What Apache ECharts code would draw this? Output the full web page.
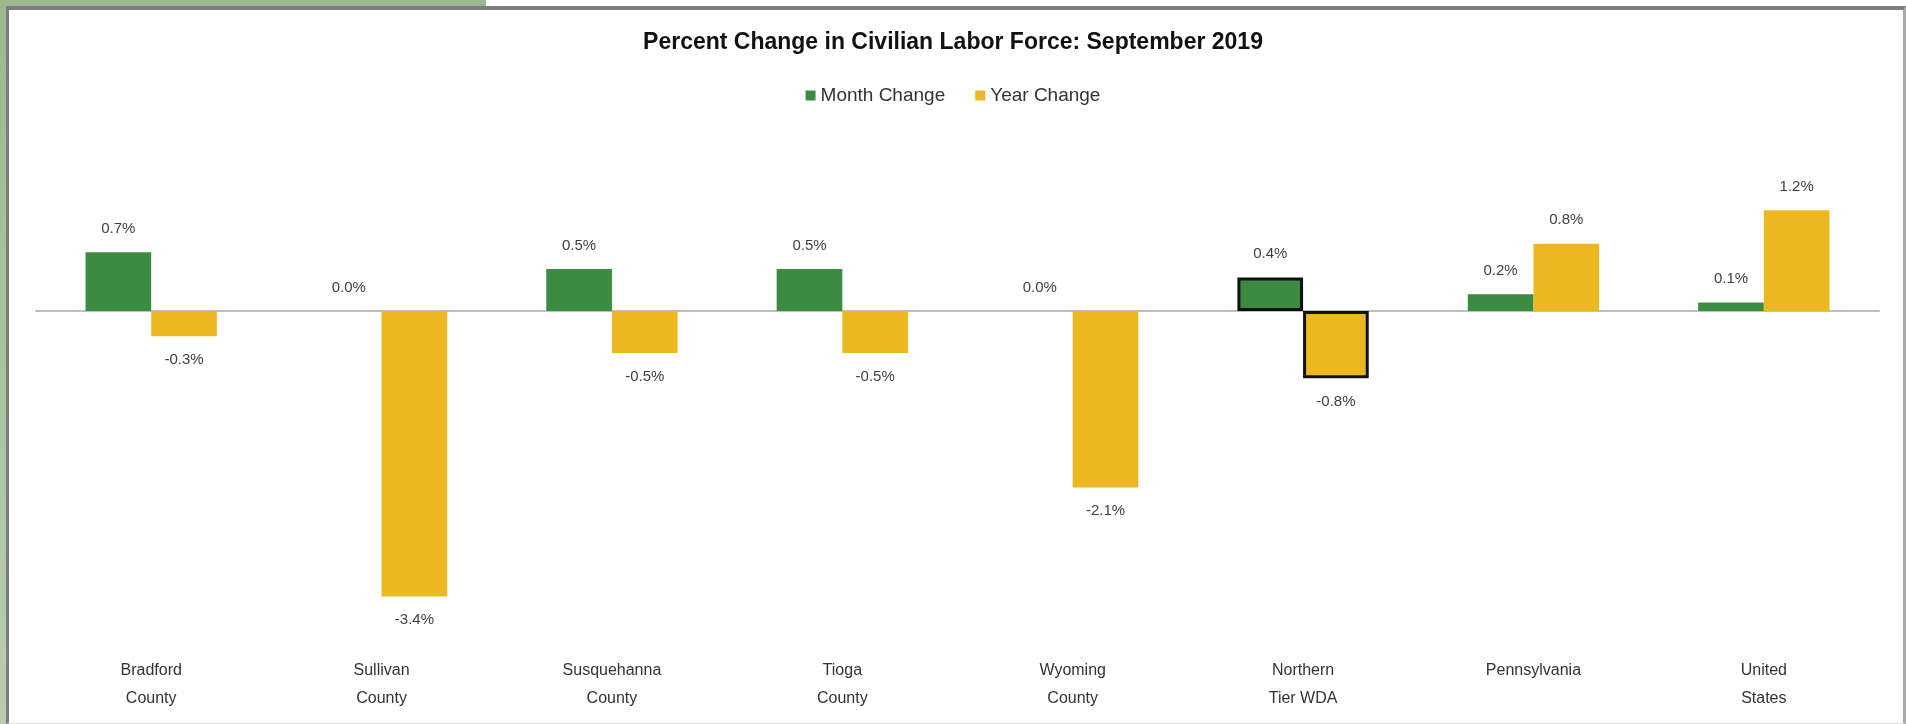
<!DOCTYPE html>
<html lang="en">
<head>
  <meta charset="UTF-8">
  <title>Percent Change in Civilian Labor Force</title>
  <script src="https://cdn.jsdelivr.net/npm/echarts@6/dist/echarts.min.js"></script>
  <style>
    html, body {
      margin: 0;
      padding: 0;
      background: #ffffff;
    }
    #greenTop {
      position: absolute; left: 0; top: 0; width: 486px; height: 8px;
      background: #9bb98f;
    }
    #greenLeft {
      position: absolute; left: 0; top: 0; width: 7px; height: 724px;
      background: linear-gradient(#9bb98f, #b9cdb1);
    }
    #frame {
      position: absolute; left: 6px; top: 6px; width: 1894px; height: 713px;
      border-top: 4px solid #7d7d7d;
      border-left: 3px solid #7d7d7d;
      border-right: 3px solid #a8a8a8;
      border-bottom: 1px solid #e0e0e0;
      background: #ffffff;
    }
    #main {
      position: absolute; left: 0; top: 0; width: 1906px; height: 724px;
    }
  </style>
</head>
<body>
<div id="greenTop"></div>
<div id="greenLeft"></div>
<div id="frame"></div>
<div id="main"></div>

<script>
  // data
  const areas = ['Bradford\nCounty', 'Sullivan\nCounty', 'Susquehanna\nCounty', 'Tioga\nCounty',
    'Wyoming\nCounty', 'Northern\nTier WDA', 'Pennsylvania', 'United\nStates'];
  const monthChange = [0.7, 0.0, 0.5, 0.5, 0.0, 0.4, 0.2, 0.1];
  const yearChange = [-0.3, -3.4, -0.5, -0.5, -2.1, -0.8, 0.8, 1.2];
  const highlighted = 'Northern\nTier WDA';

  const green = '#3b8b42';
  const yellow = '#ecb821';

  function toItems(values) {
    return values.map(function (v, idx) {
      let item = {
        value: v,
        label: {position: v < 0 ? 'bottom' : 'top'}
      };
      if (areas[idx] === highlighted) {
        item.itemStyle = {borderColor: '#111111', borderWidth: 3};
      }
      return item;
    });
  }

  let chart = echarts.init(document.getElementById('main'));
  let labelStyle = {
    show: true,
    distance: 16,
    color: '#404040',
    fontFamily: 'Liberation Sans',
    fontSize: 15,
    formatter: function (p) {
      return p.value.toFixed(1) + '%';
    }
  };
  let option = {
    animation: false,
    title: {
      text: 'Percent Change in Civilian Labor Force: September 2019',
      left: 'center',
      top: 26,
      textStyle: {
        fontFamily: 'Liberation Sans',
        fontSize: 23,
        fontWeight: 'bold',
        color: '#111111'
      }
    },
    legend: {
      top: 81,
      left: 'center',
      itemWidth: 10,
      itemHeight: 10,
      itemGap: 30,
      icon: 'rect',
      textStyle: {
        fontFamily: 'Liberation Sans',
        fontSize: 19,
        color: '#333333'
      },
      data: ['Month Change', 'Year Change']
    },
    grid: {
      left: 36,
      right: 27,
      top: 143,
      bottom: 77,
      containLabel: false
    },
    xAxis: {
      type: 'category',
      data: areas,
      axisLine: {lineStyle: {color: '#bfbfbf', width: 2}},
      axisTick: {show: false},
      axisLabel: {
        interval: 0,
        margin: 10,
        color: '#333333',
        fontFamily: 'Liberation Sans',
        fontSize: 16,
        lineHeight: 28
      }
    },
    yAxis: {
      type: 'value',
      min: -4,
      max: 2,
      show: false,
      splitLine: {show: false}
    },
    series: [
      {
        name: 'Month Change',
        type: 'bar',
        barGap: '0%',
        barCategoryGap: '43%',
        itemStyle: {color: green},
        label: labelStyle,
        data: toItems(monthChange)
      },
      {
        name: 'Year Change',
        type: 'bar',
        itemStyle: {color: yellow},
        label: labelStyle,
        data: toItems(yearChange)
      }
    ]
  };
  chart.setOption(option);
</script>
</body>
</html>
